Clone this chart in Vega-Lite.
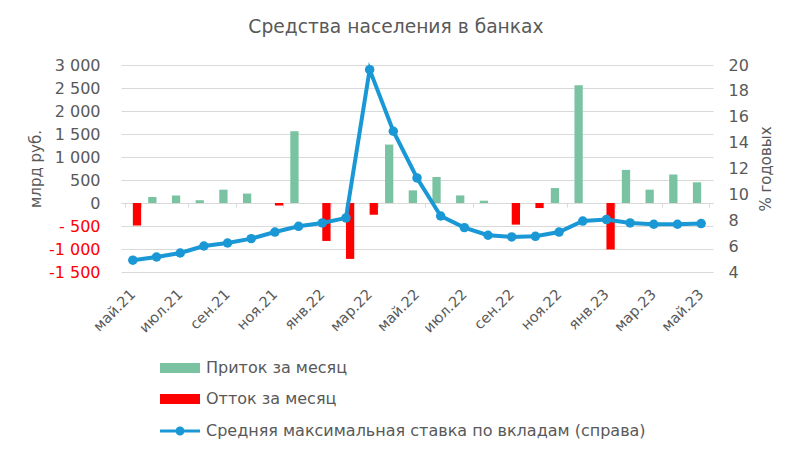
{
  "$schema": "https://vega.github.io/schema/vega-lite/v6.json",
  "autosize": "none",
  "width": 592,
  "height": 207,
  "padding": {"left": 121, "top": 65, "right": 87, "bottom": 184},
  "background": "white",
  "title": {
    "text": "Средства населения в банках",
    "fontSize": 18.7,
    "font": "DejaVu Sans",
    "fontWeight": "normal",
    "color": "#595959",
    "anchor": "middle",
    "dx": -21,
    "offset": 20
  },
  "config": {
    "view": {"stroke": null},
    "font": "DejaVu Sans",
    "axis": {"labelColor": "#595959", "titleColor": "#595959", "titleFontWeight": "normal"}
  },
  "datasets": {
    "flows": [
      {"month": "май.21", "series": "Отток за месяц", "value": -490},
      {"month": "июн.21", "series": "Приток за месяц", "value": 130},
      {"month": "июл.21", "series": "Приток за месяц", "value": 165},
      {"month": "авг.21", "series": "Приток за месяц", "value": 60},
      {"month": "сен.21", "series": "Приток за месяц", "value": 290},
      {"month": "окт.21", "series": "Приток за месяц", "value": 205},
      {"month": "ноя.21", "series": "Отток за месяц", "value": -55},
      {"month": "дек.21", "series": "Приток за месяц", "value": 1560},
      {"month": "янв.22", "series": "Отток за месяц", "value": -825},
      {"month": "фев.22", "series": "Отток за месяц", "value": -1215},
      {"month": "мар.22", "series": "Отток за месяц", "value": -255},
      {"month": "апр.22", "series": "Приток за месяц", "value": 1270},
      {"month": "май.22", "series": "Приток за месяц", "value": 275},
      {"month": "июн.22", "series": "Приток за месяц", "value": 565},
      {"month": "июл.22", "series": "Приток за месяц", "value": 165},
      {"month": "авг.22", "series": "Приток за месяц", "value": 50},
      {"month": "сен.22", "series": "Отток за месяц", "value": -470},
      {"month": "окт.22", "series": "Отток за месяц", "value": -110},
      {"month": "ноя.22", "series": "Приток за месяц", "value": 325},
      {"month": "дек.22", "series": "Приток за месяц", "value": 2560},
      {"month": "янв.23", "series": "Отток за месяц", "value": -1010},
      {"month": "фев.23", "series": "Приток за месяц", "value": 720},
      {"month": "мар.23", "series": "Приток за месяц", "value": 290},
      {"month": "апр.23", "series": "Приток за месяц", "value": 620},
      {"month": "май.23", "series": "Приток за месяц", "value": 450}
    ],
    "rate": [
      {"month": "май.21", "rate": 4.91},
      {"month": "июн.21", "rate": 5.16},
      {"month": "июл.21", "rate": 5.47},
      {"month": "авг.21", "rate": 6.01},
      {"month": "сен.21", "rate": 6.24},
      {"month": "окт.21", "rate": 6.58},
      {"month": "ноя.21", "rate": 7.09},
      {"month": "дек.21", "rate": 7.53},
      {"month": "янв.22", "rate": 7.79},
      {"month": "фев.22", "rate": 8.18},
      {"month": "мар.22", "rate": 19.64},
      {"month": "апр.22", "rate": 14.88},
      {"month": "май.22", "rate": 11.27},
      {"month": "июн.22", "rate": 8.33},
      {"month": "июл.22", "rate": 7.43},
      {"month": "авг.22", "rate": 6.84},
      {"month": "сен.22", "rate": 6.71},
      {"month": "окт.22", "rate": 6.76},
      {"month": "ноя.22", "rate": 7.09},
      {"month": "дек.22", "rate": 7.94},
      {"month": "янв.23", "rate": 8.05},
      {"month": "фев.23", "rate": 7.79},
      {"month": "мар.23", "rate": 7.69},
      {"month": "апр.23", "rate": 7.69},
      {"month": "май.23", "rate": 7.74}
    ]
  },
  "encoding": {
    "x": {
      "field": "month",
      "type": "ordinal",
      "scale": {
        "domain": ["май.21","июн.21","июл.21","авг.21","сен.21","окт.21","ноя.21","дек.21","янв.22","фев.22","мар.22","апр.22","май.22","июн.22","июл.22","авг.22","сен.22","окт.22","ноя.22","дек.22","янв.23","фев.23","мар.23","апр.23","май.23"],
        "paddingInner": 0.3,
        "paddingOuter": 0.15
      },
      "axis": {
        "title": null,
        "values": ["май.21","июл.21","сен.21","ноя.21","янв.22","мар.22","май.22","июл.22","сен.22","ноя.22","янв.23","мар.23","май.23"],
        "offset": -69,
        "domainColor": "#D9D9D9",
        "domainWidth": 1,
        "tickColor": "#D9D9D9",
        "tickSize": 4,
        "tickBand": "extent",
        "labelAngle": -45,
        "labelAlign": "right",
        "labelBaseline": "middle",
        "labelPadding": 85,
        "labelFontSize": 14.5,
        "labelColor": "#595959",
        "grid": false
      }
    }
  },
  "layer": [
    {
      "data": {"name": "flows"},
      "mark": {"type": "bar"},
      "encoding": {
        "xOffset": {"field": "series", "type": "nominal", "scale": {"domain": ["Приток за месяц", "Отток за месяц"], "paddingInner": 0}},
        "y": {
          "field": "value",
          "type": "quantitative",
          "scale": {"domain": [-1500, 3000], "nice": false, "zero": false},
          "axis": {
            "orient": "left",
            "title": "млрд руб.",
            "titleFontSize": 15,
            "titlePadding": 5,
            "values": [-1500, -1000, -500, 0, 500, 1000, 1500, 2000, 2500, 3000],
            "grid": true,
            "gridColor": "#D9D9D9",
            "gridWidth": 1,
            "domain": false,
            "ticks": false,
            "labelPadding": 21,
            "labelFontSize": 16,
            "labelExpr": "datum.value == 0 ? '0' : (datum.value < 0 ? '-' + (datum.value > -1000 ? ' ' : '') + replace(format(-datum.value, ','), ',', ' ') : replace(format(datum.value, ','), ',', ' '))",
            "labelColor": {"condition": {"test": "datum.value < 0", "value": "#FF0000"}, "value": "#595959"}
          }
        },
        "color": {
          "field": "series",
          "type": "nominal",
          "scale": {
            "domain": ["Приток за месяц", "Отток за месяц", "Средняя максимальная ставка по вкладам (справа)"],
            "range": ["#7AC3A2", "#FF0000", "#1A98D5"]
          },
          "legend": {
            "title": null,
            "orient": "none",
            "legendX": 51,
            "legendY": 295,
            "direction": "vertical",
            "padding": 0,
            "symbolSize": 400,
            "labelOffset": 18,
            "rowPadding": 15,
            "labelFontSize": 16,
            "labelColor": "#595959",
            "labelLimit": 600,
            "encode": {
              "symbols": {
                "update": {
                  "shape": {"signal": "datum.index == 2 ? 'M-2,0L2,0M0.3,0A0.3,0.3,0,1,1,-0.3,0A0.3,0.3,0,1,1,0.3,0Z' : 'M-2,-0.5L2,-0.5L2,0.5L-2,0.5Z'"},
                  "fill": {"scale": "color", "field": "value"},
                  "stroke": {"scale": "color", "field": "value"},
                  "strokeWidth": {"signal": "datum.index == 2 ? 3 : 0"},
                  "opacity": {"value": 1},
                  "fillOpacity": {"value": 1}
                }
              }
            }
          }
        }
      }
    },
    {
      "data": {"name": "rate"},
      "mark": {"type": "line", "strokeWidth": 4, "point": {"filled": true, "size": 90, "color": "#1A98D5"}},
      "encoding": {
        "y": {
          "field": "rate",
          "type": "quantitative",
          "scale": {"domain": [4, 20], "nice": false, "zero": false},
          "axis": {
            "orient": "right",
            "title": "% годовых",
            "titleFontSize": 15,
            "titleAngle": -90,
            "titleBaseline": "top",
            "titlePadding": 10,
            "values": [4, 6, 8, 10, 12, 14, 16, 18, 20],
            "grid": false,
            "domain": false,
            "ticks": false,
            "labelPadding": 15,
            "labelFontSize": 16,
            "labelColor": "#595959"
          }
        },
        "color": {"datum": "Средняя максимальная ставка по вкладам (справа)"}
      }
    }
  ],
  "resolve": {"scale": {"y": "independent"}}
}
